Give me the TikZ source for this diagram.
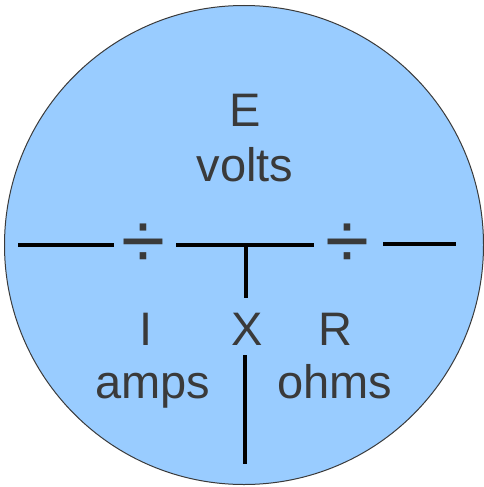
\documentclass[tikz,border=0pt]{standalone}
\usepackage{fontspec}
\setmainfont{Liberation Sans}
\usepackage{xcolor}
\usepackage{tikz}
\usetikzlibrary{positioning,calc}
\definecolor{discblue}{HTML}{99CCFF}
\definecolor{inkgray}{HTML}{3A3A3A}
\tikzset{
  disc/.style   ={draw=inkgray,fill=discblue,line width=1pt},
  word/.style   ={font=\fontsize{47}{56}\selectfont,text=inkgray,inner sep=0pt,anchor=base},
  divsign/.style={font=\fontsize{80}{90}\selectfont,text=inkgray,inner sep=0pt},
  bar/.style    ={line width=4pt,black},
}

\begin{document}
\begin{tikzpicture}[x=1pt,y=-1pt]
  \useasboundingbox (0,0) rectangle (484,487);
  % circle
  \draw[disc] (244,245) circle[radius=239.5];
  % top half
  \node[word] (E)     at (245,126) {E};
  \node[word] (volts) at (245,181) {volts};
  % divide signs
  \node[divsign] (d1) at (143.7,246.7) {÷};
  \node[divsign] (d2) at (347,246.7) {÷};
  % bars
  \coordinate (l1a) at (18,244.5);
  \coordinate (l1b) at (114,244.5);
  \coordinate (l2a) at (176,245);
  \coordinate (l2b) at (314,245);
  \coordinate (l3a) at (383,244);
  \coordinate (l3b) at (456,244);
  \coordinate (tee) at (246.3,245);
  \coordinate (teeend) at (246.3,298);
  \coordinate (lowtop) at (245,355);
  \coordinate (lowend) at (245,464);
  \draw[bar] (l1a) -- (l1b);
  \draw[bar] (l2a) -- (l2b);
  \draw[bar] (l3a) -- (l3b);
  \draw[bar] (tee) -- (teeend);
  \draw[bar] (lowtop) -- (lowend);
  % bottom half
  \node[word] (I)    at (146,345) {I};
  \node[word] (X)    at (247,345) {X};
  \node[word] (R)    at (335,345) {R};
  \node[word] (amps) at (153,398) {amps};
  \node[word] (ohms) at (335,398) {ohms};
\end{tikzpicture}
\end{document}
